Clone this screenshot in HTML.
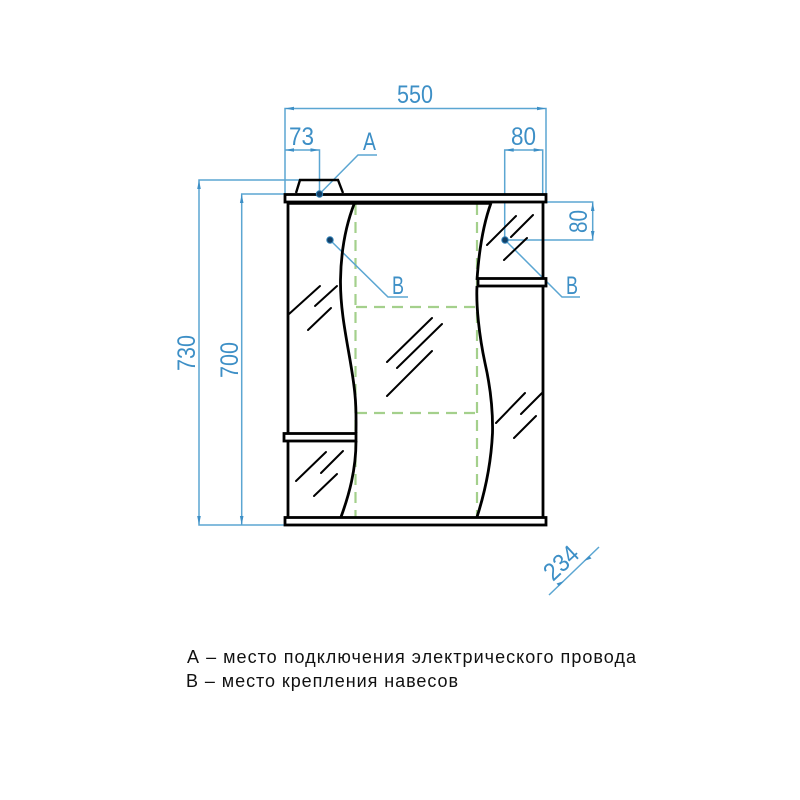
<!DOCTYPE html>
<html><head><meta charset="utf-8"><style>html,body{margin:0;padding:0;background:#fff}svg{display:block;filter:blur(.3px)}</style></head>
<body>
<svg width="800" height="800" viewBox="0 0 800 800" xmlns="http://www.w3.org/2000/svg">
<rect width="800" height="800" fill="#fff"/>
<!-- green dashed -->
<g fill="none" stroke="#a4d08c" stroke-width="2.2" stroke-dasharray="11 7">
<path d="M355.5 204V517"/><path d="M477 204V517"/>
<path d="M356 307H477"/><path d="M356 413H477"/>
</g>
<!-- dimension lines -->
<g fill="none" stroke="#5ba6d2" stroke-width="1.5">
<path d="M285 194V108.5H546V194"/>
<path d="M285 150H319.5V194"/>
<path d="M504.7 240V150H542.7V194"/>
<path d="M546 202H592.7V240H505"/>
<path d="M300 180H199V525H285"/>
<path d="M285 194H241.7V525"/>
<path d="M319.5 194L358 155H377"/>
<path d="M330 240L388 297H408"/>
<path d="M505 240L562 297H580"/>
<path d="M549 595L599 547"/>
</g>
<g fill="#3d8fc6">
<path d="M285 108.5l9-1.8v3.6zM546 108.5l-9-1.8v3.6z"/>
<path d="M285 150l9-1.8v3.6zM319.5 150l-9-1.8v3.6z"/>
<path d="M504.7 150l9-1.8v3.6zM542.7 150l-9-1.8v3.6z"/>
<path d="M592.7 202l-1.8 9h3.6zM592.7 240l-1.8-9h3.6z"/>
<path d="M199 180l-1.8 9h3.6zM199 525l-1.8-9h3.6z"/>
<path d="M241.7 194l-1.8 9h3.6zM241.7 525l-1.8-9h3.6z"/>
<path d="M564 581l-7.5 2.500 2.400 2.600zM584 561l7.500-2.500-2.400-2.600z"/>
</g>
<!-- cabinet -->
<g fill="none" stroke="#000" stroke-width="2.8">
<path d="M296 193L300 180H338L343 193" stroke-width="2.400"/>
<rect x="285" y="194.5" width="261" height="7.5" fill="#fff"/>
<rect x="285" y="517.5" width="261" height="7.500" fill="#fff"/>
<path d="M288 203V433M288 441V517"/>
<path d="M543 203V278M543 286V517"/>
<rect x="284" y="433.5" width="72" height="7.500" fill="#fff"/>
<rect x="478" y="278.5" width="68" height="7.500" fill="#fff"/>
<path d="M288 203H491" stroke-width="3.400"/>
<path d="M354.5 203C347 222 341 248 340.5 280C340 320 352 360 355 395C356.5 410 356 425 356 433M356 441C356 470 349 495 341 517"/>
<path d="M491 203C483 225 479 250 477 280M477 286C476 305 479 335 485 363C490 385 493 410 492.500 433C491 465 485 492 477 517"/>
</g>
<!-- hatch -->
<g stroke="#000" stroke-width="2" fill="none" stroke-linecap="round">
<path d="M289 314L320 286M315 306L337 286M308 330L331 308"/>
<path d="M296 481L326 452M321 473L343 451M314 496L337 474"/>
<path d="M487 245L516 216M511 237L533 215M504 260L527 238"/>
<path d="M387 362L432 318M397 368L442 324M387 396L432 351"/>
<path d="M496 423L525 393M521 414L542 393M514 438L536 416"/>
</g>
<g fill="#123f66" stroke="#2f7fb5" stroke-width="1">
<circle cx="319.500" cy="194" r="3.200"/><circle cx="330" cy="240" r="3.200"/><circle cx="505" cy="240" r="3.200"/>
</g>
<!-- dimension text -->
<g font-family="'Liberation Sans','DejaVu Sans',sans-serif" fill="#3d8fc6" font-size="25">
<text x="397" y="103" textLength="36" lengthAdjust="spacingAndGlyphs">550</text>
<text x="289" y="145" textLength="25" lengthAdjust="spacingAndGlyphs">73</text>
<text x="511" y="145" textLength="25" lengthAdjust="spacingAndGlyphs">80</text>
<text x="363" y="150" textLength="13" lengthAdjust="spacingAndGlyphs">A</text>
<text x="392" y="294" textLength="12" lengthAdjust="spacingAndGlyphs">B</text>
<text x="566" y="294" textLength="12" lengthAdjust="spacingAndGlyphs">B</text>
<text transform="translate(587,233) rotate(-90)" textLength="23" lengthAdjust="spacingAndGlyphs">80</text>
<text transform="translate(195,371) rotate(-90)" textLength="36" lengthAdjust="spacingAndGlyphs">730</text>
<text transform="translate(238,378) rotate(-90)" textLength="36" lengthAdjust="spacingAndGlyphs">700</text>
<text transform="translate(553,582) rotate(-43)" textLength="38" lengthAdjust="spacingAndGlyphs">234</text>
</g>
<!-- legend -->
<g font-family="'Liberation Sans','DejaVu Sans',sans-serif" fill="#111" font-size="18">
<text x="187" y="663" textLength="449" lengthAdjust="spacing">А – место подключения электрического провода</text>
<text x="186" y="687" textLength="272" lengthAdjust="spacing">В – место крепления навесов</text>
</g>
</svg>
</body></html>
